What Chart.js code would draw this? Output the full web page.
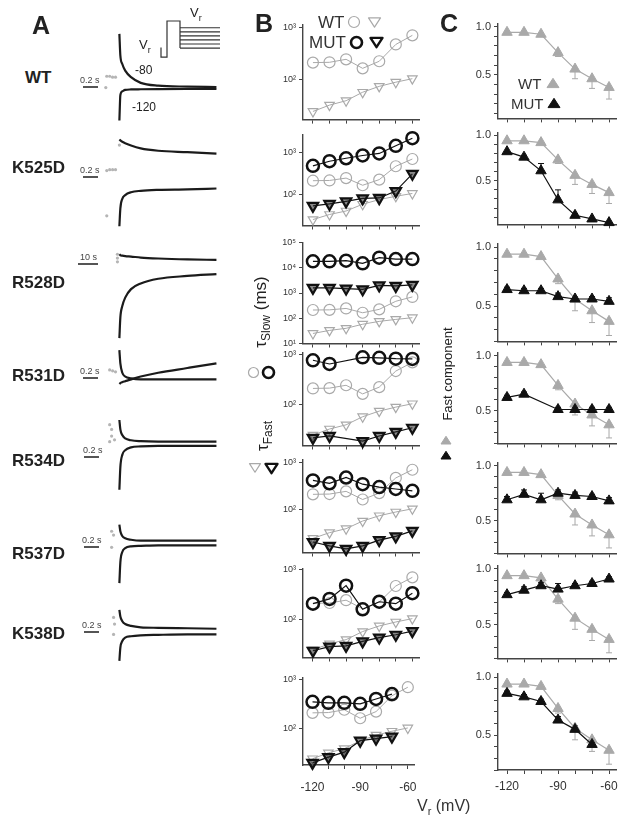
<!DOCTYPE html>
<html>
<head>
<meta charset="utf-8">
<script src="https://cdn.jsdelivr.net/npm/chart.js@4.4.1/dist/chart.umd.min.js"></script>
<style>
  body { margin: 0; background: #fff; }
  #fig { position: relative; width: 619px; height: 818px; overflow: hidden;
         font-family: "Liberation Sans", Arial, sans-serif; color: #222; }
  #fig canvas { position: absolute; }
  .t { position: absolute; white-space: nowrap; line-height: 1; }
  .row { font-weight: bold; font-size: 17px; }
  .bar { position: absolute; height: 1.5px; background: #555; }
</style>
</head>
<body>
<div id="fig"></div>
<script>
// recovery potentials (mV)
const VR = [-120, -110, -100, -90, -80, -70, -60];
const VR_LABELS = [-120, -90, -60];

// slow / fast time constants (ms)
const WT_SLOW    = [212, 215, 245, 165, 225, 470, 700];
const WT_FAST    = [25, 33, 40, 58, 75, 90, 105];
const K525D_SLOW = [480, 620, 730, 850, 950, 1450, 2200];
const K525D_FAST = [53, 59, 68, 80, 82, 120, 310];
const R528D_SLOW = [18000, 18000, 19000, 15000, 25000, 22000, 22000];
const R528D_FAST = [1600, 1600, 1500, 1400, 2000, 1900, 2100];
const R531D_SLOW = [770, 650, null, 880, 860, 830, 820];
const R531D_FAST = [22, 24, null, 19, 24, 29, 35];
const R534D_SLOW = [417, 363, 480, 347, 302, 275, 251];
const R534D_FAST = [21, 17.4, 15, 17.4, 23, 27.5, 36];
const R537D_SLOW = [209, 260, 478, 161, 228, 209, 337];
const R537D_FAST = [24, 29, 30, 37, 44, 50, 59];
const K538D_SLOW = [354, 338, 338, 323, 405, 508, null];
const K538D_FAST = [20.6, 27, 34, 58, 64, 70, null];

// fraction of the fast component, with one-sided SEM
const WT_FRAC        = [0.94, 0.94, 0.92, 0.73, 0.56, 0.46, 0.37];
const WT_FRAC_ERR    = [0.01, 0.01, 0.01, 0.04, 0.10, 0.10, 0.12];
const K525D_FRAC     = [0.82, 0.76, 0.61, 0.29, 0.12, 0.08, 0.04];
const K525D_FRAC_ERR = [0, 0.02, 0.08, 0.11, 0.02, 0.01, 0];
const R528D_FRAC     = [0.64, 0.63, 0.63, 0.58, 0.56, 0.56, 0.54];
const R528D_FRAC_ERR = [0.02, 0.02, 0.02, 0.03, 0.02, 0.02, 0.03];
const R531D_FRAC     = [0.62, 0.65, null, 0.51, 0.51, 0.51, 0.51];
const R531D_FRAC_ERR = [0.02, 0.02, 0, 0.02, 0.02, 0.02, 0.02];
const R534D_FRAC     = [0.69, 0.74, 0.69, 0.75, 0.73, 0.72, 0.68];
const R534D_FRAC_ERR = [0.03, 0.04, 0.06, 0.03, 0.03, 0.02, 0.03];
const R537D_FRAC     = [0.77, 0.81, 0.85, 0.82, 0.85, 0.87, 0.91];
const R537D_FRAC_ERR = [0.02, 0.03, 0.03, 0.05, 0.02, 0.02, 0.02];
const K538D_FRAC     = [0.86, 0.83, 0.79, 0.63, 0.55, 0.42, null];
const K538D_FRAC_ERR = [0.02, 0.02, 0.02, 0.03, 0.03, 0.04, 0];

// current traces: time (fraction of sweep) and fitted current (a.u.)
const A_TIME   = [0, 0.01, 0.03, 0.06, 0.12, 0.22, 0.4, 0.7, 1.0];
const WT_UP    = [57, 34, 25, 18, 11, 5, 2, 1, 0.5];
const WT_DOWN  = [-35, -8, -4, -2.5, -2, -1.8, -1.6, -1.5, -1.5];
const K525D_UP   = [33, 32, 30.5, 29, 26.5, 23.5, 21, 19.5, 18];
const K525D_DOWN = [-59, -40, -30, -26, -23, -21.5, -20.5, -20, -19];
const R528D_UP   = [12, 11, 10.5, 10, 9.5, 8.5, 7.5, 6.5, 6];
const R528D_DOWN = [-77, -55, -43, -34, -25, -19, -14, -11, -9];
const R531D_UP   = [27, 13, 3, -1, -3, -4, -4, -4, -4];
const R531D_DOWN = [-9, -8, -7, -6, -4, -1, 3, 8, 13];
const R534D_UP   = [25, 15, 9, 5.5, 3.5, 2.5, 2, 2, 2];
const R534D_DOWN = [-49, -25, -12, -7, -4, -3, -2.5, -2.5, -2.5];
const R537D_UP   = [19, 12, 7, 4.5, 3, 2, 2, 2, 2];
const R537D_DOWN = [-43, -21, -10, -6, -4, -3.5, -3, -3, -3];
const K538D_UP   = [23, 16, 11, 8, 6, 4.5, 4, 3.5, 3];
const K538D_DOWN = [-31, -17, -10, -6.5, -5, -4, -3.5, -3, -3];

// raw samples at the start of each sweep
const WT_RAW    = [{x: -0.13, y: 12}, {x: -0.1, y: 12}, {x: -0.07, y: 11}, {x: -0.04, y: 11}, {x: -0.14, y: 0}];
const K525D_RAW = [{x: -0.13, y: 0}, {x: -0.1, y: 1}, {x: -0.07, y: 1}, {x: -0.04, y: 1}, {x: -0.13, y: -48}, {x: 0, y: 27}];
const R528D_RAW = [{x: -0.02, y: 12}, {x: -0.02, y: 8}, {x: -0.02, y: 4}];
const R531D_RAW = [{x: -0.1, y: 6}, {x: -0.07, y: 5}, {x: -0.04, y: 4}];
const R534D_RAW = [{x: -0.1, y: 20}, {x: -0.08, y: 15}, {x: -0.08, y: 8}, {x: -0.05, y: 4}, {x: -0.1, y: 2}];
const R537D_RAW = [{x: -0.08, y: 12}, {x: -0.06, y: 8}, {x: -0.08, y: -5}];
const K538D_RAW = [{x: -0.06, y: 15}, {x: -0.05, y: 8}, {x: -0.06, y: -3}];

// voltage protocol (ms, mV)
const PROTO_T  = [0, 0, 6, 6, 19, 19];
const PROTO_V  = [-78, -120, -120, 40, 40, -80];
const PROTO_VR = [10, -8, -26, -44, -62, -80];
const PROTO_END = 59;

const GREY = '#a9a9a9';
const DARK = '#111';

Chart.defaults.font.family = '"Liberation Sans", Arial, sans-serif';
Chart.defaults.color = '#333';
Chart.defaults.animation = false;
Chart.defaults.plugins.legend.display = false;
Chart.defaults.plugins.tooltip.enabled = false;

const fig = document.getElementById('fig');

function addCanvas(left, top, w, h) {
  const c = document.createElement('canvas');
  c.width = w; c.height = h;
  c.style.left = left + 'px'; c.style.top = top + 'px';
  c.style.width = w + 'px'; c.style.height = h + 'px';
  fig.appendChild(c);
  return c.getContext('2d');
}

function addText(html, left, top, cls, css) {
  const d = document.createElement('div');
  d.className = 't ' + (cls || '');
  d.innerHTML = html;
  d.style.left = left + 'px'; d.style.top = top + 'px';
  if (css) d.style.cssText += css;
  fig.appendChild(d);
  return d;
}

// small legend symbols
function sym(kind, cx, cy, r, color, sw, fill) {
  const s = Math.ceil(2 * r + 2 * sw + 2);
  let shape;
  if (kind === 'circle') shape = `<circle r="${r}"/>`;
  else if (kind === 'down') shape = `<polygon points="${-r},${-r * 0.6} ${r},${-r * 0.6} 0,${r * 0.95}"/>`;
  else shape = `<polygon points="${-r},${r * 0.6} ${r},${r * 0.6} 0,${-r * 0.95}"/>`;
  const d = document.createElement('div');
  d.style.cssText = `position:absolute;left:${cx - s / 2}px;top:${cy - s / 2}px;width:${s}px;height:${s}px`;
  d.innerHTML = `<svg width="${s}" height="${s}" viewBox="${-s / 2} ${-s / 2} ${s} ${s}">
    <g fill="${fill || 'none'}" stroke="${color}" stroke-width="${sw}" stroke-linejoin="round">${shape}</g></svg>`;
  fig.appendChild(d);
}

// vertical SEM bars
const errorBars = {
  id: 'errorBars',
  beforeDatasetsDraw(chart) {
    const ctx = chart.ctx;
    const ys = chart.scales.y;
    chart.data.datasets.forEach((ds, i) => {
      if (!ds.errUp && !ds.errDown) return;
      const meta = chart.getDatasetMeta(i);
      ctx.save();
      ctx.strokeStyle = ds.borderColor;
      ctx.lineWidth = 1;
      meta.data.forEach((pt, j) => {
        const v = ds.data[j].y;
        if (v == null) return;
        [[ds.errUp, 1], [ds.errDown, -1]].forEach(([arr, sgn]) => {
          if (!arr || !arr[j]) return;
          const y2 = ys.getPixelForValue(v + sgn * arr[j]);
          ctx.beginPath();
          ctx.moveTo(pt.x, pt.y); ctx.lineTo(pt.x, y2);
          ctx.moveTo(pt.x - 3, y2); ctx.lineTo(pt.x + 3, y2);
          ctx.stroke();
        });
      });
      ctx.restore();
    });
  }
};

const AXIS_W = 34, PAD_T = 6, PAD_R = 9;
const axisLine = { display: true, color: '#444', width: 1.4 };
const tickMarks = { display: true, drawOnChartArea: false, drawTicks: true, tickLength: 4, color: '#444', lineWidth: 1 };

// one small panel whose plot area is exactly rect
function panel(rect, x, y, datasets, xLabelPad) {
  const axisH = xLabelPad ? 40 : 6;
  const ctx = addCanvas(rect.l - AXIS_W, rect.t - PAD_T, rect.w + AXIS_W + PAD_R, rect.h + PAD_T + axisH);
  return new Chart(ctx, {
    type: 'line',
    data: { datasets },
    plugins: [errorBars],
    options: {
      responsive: false,
      devicePixelRatio: 1,
      layout: { padding: { top: PAD_T, right: PAD_R, left: 0, bottom: 0 } },
      scales: {
        x: {
          type: 'linear', min: x.min, max: x.max,
          afterFit(s) { s.height = axisH; },
          afterBuildTicks(s) { s.ticks = VR.map(v => ({ value: v })); },
          ticks: {
            display: !!xLabelPad, autoSkip: false, maxRotation: 0, padding: xLabelPad || 0,
            font: { size: 12 }, color: '#333',
            callback: v => VR_LABELS.includes(v) ? String(v) : ''
          },
          grid: tickMarks, border: axisLine
        },
        y: {
          type: y.type, min: y.min, max: y.max,
          afterFit(s) { s.width = AXIS_W; },
          afterBuildTicks(s) { s.ticks = y.ticks.map(v => ({ value: v })); },
          ticks: { autoSkip: false, padding: 3, font: { size: y.font }, color: '#333', callback: y.label },
          grid: tickMarks, border: axisLine
        }
      }
    }
  });
}

const SUP = { 1: '\u00b9', 2: '\u00b2', 3: '\u00b3', 4: '\u2074', 5: '\u2075' };
function decades(min, max) {
  const out = [];
  for (let e = 0; e <= 6; e++) { const v = Math.pow(10, e); if (v >= min * 0.999 && v <= max * 1.001) out.push(v); }
  return out;
}
const logLabel = v => '10' + SUP[Math.round(Math.log10(v))];
const fracTicks = [0.1, 0.2, 0.3, 0.4, 0.5, 0.6, 0.7, 0.8, 0.9, 1.0];
const fracLabel = v => Math.abs(v - 0.5) < 1e-6 ? '0.5' : (Math.abs(v - 1) < 1e-6 ? '1.0' : '');

function pts(ys) { return VR.map((v, i) => ({ x: v, y: ys[i] })); }

function tauSets(slow, fast) {
  const sets = [];
  if (slow) {
    sets.push({ data: pts(slow), borderColor: DARK, borderWidth: 1.2, pointStyle: 'circle', pointRadius: 6,
      pointBorderWidth: 2.5, pointBackgroundColor: 'rgba(0,0,0,0)', spanGaps: true, clip: false });
    sets.push({ data: pts(fast), borderColor: DARK, borderWidth: 1.2, pointStyle: 'triangle', rotation: 180,
      pointRadius: 6, pointBorderWidth: 2.2, pointBackgroundColor: 'rgba(40,40,40,0.55)', spanGaps: true, clip: false });
  }
  sets.push({ data: pts(WT_SLOW), borderColor: GREY, borderWidth: 1, pointStyle: 'circle', pointRadius: 5.5,
    pointBorderWidth: 1.2, pointBackgroundColor: 'rgba(0,0,0,0)', clip: false });
  sets.push({ data: pts(WT_FAST), borderColor: GREY, borderWidth: 1, pointStyle: 'triangle', rotation: 180,
    pointRadius: 5.5, pointBorderWidth: 1.2, pointBackgroundColor: 'rgba(0,0,0,0)', clip: false });
  return sets;
}

function fracSets(frac, err) {
  const sets = [];
  if (frac) sets.push({ data: pts(frac), errUp: err, borderColor: DARK, borderWidth: 1.2, pointStyle: 'triangle',
    pointRadius: 6, pointBorderWidth: 1, pointBackgroundColor: DARK, spanGaps: true, clip: false });
  sets.push({ data: pts(WT_FRAC), errDown: WT_FRAC_ERR, borderColor: GREY, borderWidth: 1.2, pointStyle: 'triangle',
    pointRadius: 6, pointBorderWidth: 1, pointBackgroundColor: GREY, clip: false });
  return sets;
}

// ---- panel rows ----
const ROWS = [
  { name: 'WT', labelX: 25, labelY: 77, aY: 87, up: WT_UP, down: WT_DOWN, raw: WT_RAW,
    slow: null, fast: null, frac: null, err: null,
    b: { t: 22, h: 100, min: 17.5, max: 1130 }, c: { t: 20, h: 102, min: 0.05, max: 1.03 } },
  { name: 'K525D', labelX: 12, labelY: 167, aY: 170, up: K525D_UP, down: K525D_DOWN, raw: K525D_RAW,
    slow: K525D_SLOW, fast: K525D_FAST, frac: K525D_FRAC, err: K525D_FRAC_ERR,
    b: { t: 132, h: 96, min: 18, max: 2700 }, c: { t: 129, h: 99, min: 0.02, max: 1.03 } },
  { name: 'R528D', labelX: 12, labelY: 282, aY: 265, up: R528D_UP, down: R528D_DOWN, raw: R528D_RAW,
    slow: R528D_SLOW, fast: R528D_FAST, frac: R528D_FRAC, err: R528D_FRAC_ERR,
    b: { t: 240, h: 106, min: 10, max: 100000 }, c: { t: 240, h: 105, min: 0.2, max: 1.03 } },
  { name: 'R531D', labelX: 12, labelY: 375, aY: 375, up: R531D_UP, down: R531D_DOWN, raw: R531D_RAW,
    slow: R531D_SLOW, fast: R531D_FAST, frac: R531D_FRAC, err: R531D_FRAC_ERR,
    b: { t: 350, h: 98, min: 15.5, max: 1100 }, c: { t: 349, h: 98, min: 0.2, max: 1.03 } },
  { name: 'R534D', labelX: 12, labelY: 460, aY: 443, up: R534D_UP, down: R534D_DOWN, raw: R534D_RAW,
    slow: R534D_SLOW, fast: R534D_FAST, frac: R534D_FRAC, err: R534D_FRAC_ERR,
    b: { t: 457, h: 98, min: 12.6, max: 1150 }, c: { t: 459, h: 98, min: 0.2, max: 1.03 } },
  { name: 'R537D', labelX: 12, labelY: 553, aY: 542, up: R537D_UP, down: R537D_DOWN, raw: R537D_RAW,
    slow: R537D_SLOW, fast: R537D_FAST, frac: R537D_FRAC, err: R537D_FRAC_ERR,
    b: { t: 566, h: 94, min: 17.6, max: 1050 }, c: { t: 562, h: 100, min: 0.2, max: 1.03 } },
  { name: 'K538D', labelX: 12, labelY: 633, aY: 631, up: K538D_UP, down: K538D_DOWN, raw: K538D_RAW,
    slow: K538D_SLOW, fast: K538D_FAST, frac: K538D_FRAC, err: K538D_FRAC_ERR,
    b: { t: 675, h: 90, min: 18.7, max: 1100 }, c: { t: 670, h: 100, min: 0.2, max: 1.03 } }
];

// scale bars next to the traces
const SCALE_BARS = [
  { txt: '0.2 s', x: 80, y: 76, bx: 83, bw: 15 },
  { txt: '0.2 s', x: 80, y: 166, bx: 83, bw: 15 },
  { txt: '10 s', x: 80, y: 253, bx: 78, bw: 20 },
  { txt: '0.2 s', x: 80, y: 367, bx: 83, bw: 15 },
  { txt: '0.2 s', x: 83, y: 446, bx: 84, bw: 15 },
  { txt: '0.2 s', x: 82, y: 536, bx: 84, bw: 15 },
  { txt: '0.2 s', x: 82, y: 621, bx: 84, bw: 15 }
];

const B_X = { min: -126, max: -56 }, B_L = 303, B_W = 116;
const C_X = { min: -125.3, max: -55.9 }, C_L = 498, C_W = 118;

ROWS.forEach((r, i) => {
  const last = i === ROWS.length - 1;
  addText(r.name, r.labelX, r.labelY - 8, 'row');

  // A: fitted currents
  const ctxA = addCanvas(95, r.aY - 60, 140, 140);
  new Chart(ctxA, {
    type: 'line',
    data: { datasets: [
      { data: A_TIME.map((t, k) => ({ x: t, y: r.up[k] })), borderColor: '#1b1b1b', borderWidth: 2.2,
        pointRadius: 0, cubicInterpolationMode: 'monotone', clip: false },
      { data: A_TIME.map((t, k) => ({ x: t, y: r.down[k] })), borderColor: '#1b1b1b', borderWidth: 2.2,
        pointRadius: 0, cubicInterpolationMode: 'monotone', clip: false },
      { data: r.raw, showLine: false, pointRadius: 1.6, pointBorderWidth: 0, pointBackgroundColor: '#b5b5b5', clip: false }
    ] },
    options: {
      responsive: false, devicePixelRatio: 1,
      layout: { padding: 0 },
      scales: {
        x: { type: 'linear', min: -0.21, max: 1.15, display: false },
        y: { type: 'linear', min: -80, max: 60, display: false }
      }
    }
  });

  const sb = SCALE_BARS[i];
  addText(sb.txt, sb.x, sb.y, '', 'font-size:9px;color:#444');
  const bar = document.createElement('div');
  bar.className = 'bar';
  bar.style.cssText += `left:${sb.bx}px;top:${sb.y + 10}px;width:${sb.bw}px`;
  fig.appendChild(bar);

  // B: time constants on a log axis
  panel({ l: B_L, t: r.b.t, w: B_W, h: r.b.h }, B_X,
    { type: 'logarithmic', min: r.b.min, max: r.b.max, ticks: decades(r.b.min, r.b.max), label: logLabel, font: 9 },
    tauSets(r.slow, r.fast), last ? 11 : 0);

  // C: fast fraction
  panel({ l: C_L, t: r.c.t, w: C_W, h: r.c.h }, C_X,
    { type: 'linear', min: r.c.min, max: r.c.max, ticks: fracTicks.filter(v => v >= r.c.min && v <= r.c.max), label: fracLabel, font: 11 },
    fracSets(r.frac, r.err), last ? 5 : 0);
});

// protocol inset
const ctxP = addCanvas(150, 15, 75, 47);
const protoSets = [{ data: PROTO_T.map((t, k) => ({ x: t, y: PROTO_V[k] })), borderColor: '#333', borderWidth: 1.2, pointRadius: 0, clip: false }];
PROTO_VR.forEach(v => protoSets.push({ data: [{ x: 19, y: v }, { x: PROTO_END, y: v }], borderColor: '#333', borderWidth: 1.2, pointRadius: 0, clip: false }));
new Chart(ctxP, {
  type: 'line',
  data: { datasets: protoSets },
  options: {
    responsive: false, devicePixelRatio: 1, layout: { padding: 0 },
    scales: { x: { type: 'linear', min: -11, max: 64, display: false }, y: { type: 'linear', min: -142, max: 66.7, display: false } }
  }
});
addText('V<sub style="font-size:9px">r</sub>', 139, 38, '', 'font-size:13px');
addText('V<sub style="font-size:9px">r</sub>', 190, 6, '', 'font-size:13px');
addText('-80', 135, 64, '', 'font-size:12px');
addText('-120', 132, 101, '', 'font-size:12px');

// panel letters
addText('A', 32, 13, '', 'font-size:25px;font-weight:bold');
addText('B', 255, 11, '', 'font-size:25px;font-weight:bold');
addText('C', 440, 11, '', 'font-size:25px;font-weight:bold');

// legend in B
addText('WT', 318, 14, '', 'font-size:17px;color:#333');
sym('circle', 354, 22, 5.5, GREY, 1.2);
sym('down', 374, 21, 6, GREY, 1.2);
addText('MUT', 309, 34, '', 'font-size:17px;color:#333');
sym('circle', 356, 42, 5.5, DARK, 2.6);
sym('down', 376, 41, 6, DARK, 2.4);

// legend in C
addText('WT', 518, 76, '', 'font-size:15px;color:#333');
sym('up', 553, 84, 6, GREY, 1, GREY);
addText('MUT', 511, 96, '', 'font-size:15px;color:#333');
sym('up', 554, 104, 6, DARK, 1, DARK);

// axis titles for B and C
addText('\u03c4<sub style="font-size:12px">Slow</sub> (ms)', 262, 312, '',
  'font-size:17px;transform:translate(-50%,-50%) rotate(-90deg)');
sym('circle', 253, 372, 5, GREY, 1.2);
sym('circle', 268, 372, 5.5, DARK, 2.6);
addText('\u03c4<sub style="font-size:12px">Fast</sub>', 264, 436, '',
  'font-size:17px;transform:translate(-50%,-50%) rotate(-90deg)');
sym('down', 255, 467, 5.5, GREY, 1.2);
sym('down', 271, 467, 6, DARK, 2.4);
addText('Fast component', 447, 374, '',
  'font-size:13px;transform:translate(-50%,-50%) rotate(-90deg)');
sym('up', 446, 441, 5, GREY, 1, GREY);
sym('up', 446, 456, 5, DARK, 1, DARK);

addText('V<sub style="font-size:11px">r</sub> (mV)', 417, 798, '', 'font-size:16px;color:#333');
</script>
</body>
</html>
